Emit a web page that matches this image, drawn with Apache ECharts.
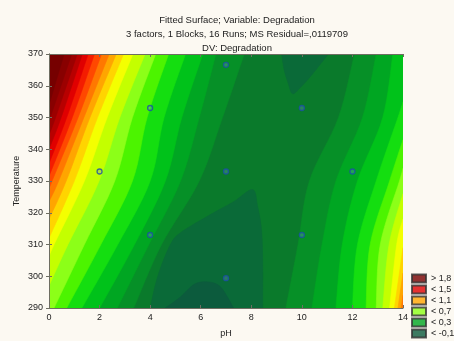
<!DOCTYPE html>
<html>
<head>
<meta charset="utf-8">
<script src="https://cdn.jsdelivr.net/npm/echarts@6/dist/echarts.min.js"></script>
<style>
html, body { margin: 0; background: #fcf9f2; }
#chart { width: 454px; height: 341px; }
</style>
</head>
<body>
<div id="chart"></div>
<script>
// axis ranges
var phRange = [0, 14];
var tempRange = [290, 370];

var tempRows = [290, 310, 330, 350, 370];

// contour lines on the acid side (value rises towards pH 0)
var leftLevels = [0.1, 0.2, 0.3, 0.4, 0.5, 0.6, 0.7, 0.8, 0.9, 1.0, 1.1, 1.2, 1.3, 1.4, 1.5, 1.6, 1.7, 1.8];
var leftPH = [
    [3.35, 4.45, 5.94, 6.86, 7.72],
    [2.7, 3.95, 5.2, 5.94, 6.6],
    [2.0, 3.38, 4.6, 5.25, 6.08],
    [1.3, 2.72, 4.0, 4.55, 5.4],
    [0.7, 2.05, 3.3, 3.88, 4.73],
    [0.2, 1.4, 2.6, 3.3, 4.22],
    [null, 0.75, 1.98, 2.8, 3.8],
    [null, 0.2, 1.4, 2.3, 3.32],
    [null, null, 1.0, 1.92, 2.95],
    [null, null, 0.68, 1.62, 2.66],
    [null, null, 0.38, 1.38, 2.38],
    [null, null, 0.12, 1.15, 2.08],
    [null, null, null, 0.92, 1.8],
    [null, null, null, 0.7, 1.55],
    [null, null, null, 0.48, 1.32],
    [null, null, null, 0.26, 1.12],
    [null, null, null, 0.05, 0.9],
    [null, null, null, null, 0.6]
];
// temperature where a line runs into the pH 0 edge (null: it starts on the bottom edge)
var leftEdgeT = [null, null, null, null, null, null, 297, 306, 312, 318, 323.5, 327.5, 331.5, 335.5, 340, 344.5, 349, 354];

// contour lines on the alkaline side (value rises towards pH 14)
var rightLevels = [0.1, 0.2, 0.3, 0.4, 0.5, 0.6, 0.7, 0.8, 0.9, 1.0, 1.1];
var rightPH = [
    [9.37, 9.85, 10.3, 11.45, 12.08],
    [10.4, 10.8, 11.35, 12.4, 12.94],
    [11.35, 11.6, 12.2, 13.2, 13.6],
    [12.0, 12.2, 12.94, 13.8, null],
    [12.54, 12.7, 13.47, null, null],
    [12.94, 13.1, 13.86, null, null],
    [13.2, 13.45, null, null, null],
    [13.47, 13.75, null, null, null],
    [13.66, null, null, null, null],
    [13.8, null, null, null, null],
    [13.93, null, null, null, null]
];
// temperature where a line runs into the pH 14 edge (null: it reaches the top edge)
var rightEdgeT = [null, null, null, 355, 343, 334, 326, 318, 309, 301, 294];

// closed low regions: level and outline
var lowLevels = [0.0, 0.0, -0.1];
var lowOutlines = [
    [[9.2, 370], [9.3, 365], [9.45, 361], [9.63, 357.5], [9.95, 359.5], [10.4, 363.5], [10.8, 367.5], [11.05, 370]],
    [[4.0, 290], [4.3, 300], [4.8, 310], [5.25, 314], [6.4, 319.5], [7.3, 323.5], [8.05, 327.3], [8.25, 322], [8.4, 315], [8.45, 305], [8.45, 290]],
    [[4.6, 290], [5.2, 293.5], [5.75, 297.5], [6.3, 298.2], [6.8, 296.5], [7.3, 290]]
];

// design points
var designPH = [2, 4, 4, 7, 7, 7, 10, 10, 12];
var designTemp = [333, 353, 313, 366.6, 333, 299.4, 353, 313, 333];

// legend entries
var legendNames = ['> 1,8', '< 1,5', '< 1,1', '< 0,7', '< 0,3', '< -0,1'];
var legendBands = [20, 16, 12, 8, 4, 0];

// one colour per band: band 0 < -0.1, band k in [0.1k-0.2, 0.1k-0.1), band 20 > 1.8
var palette = ['#0c5b3d', '#0a6a38', '#0a7a2b', '#069027', '#00a622', '#00c21a', '#14de10',
    '#4cf400', '#8cff18', '#c4ff00', '#f4ff00', '#ffd400', '#ffa500', '#ff7800', '#ff4800',
    '#f41c00', '#e00000', '#b80000', '#9c0000', '#880000', '#760000'];

function bandAbove(level) { return Math.round((level + 0.2) * 10); }

// build the filled regions, painted in order: curve part + straight closing part along the frame
var shapes = [];
shapes.push({ band: 2, curve: [], tail: [[phRange[0], tempRange[0]], [phRange[1], tempRange[0]], [phRange[1], tempRange[1]], [phRange[0], tempRange[1]]] });
leftLevels.forEach(function (lv, i) {
    var curve = [];
    if (leftEdgeT[i] != null) curve.push([phRange[0], leftEdgeT[i]]);
    tempRows.forEach(function (t, j) {
        if (leftPH[i][j] != null) curve.push([leftPH[i][j], t]);
    });
    shapes.push({ band: bandAbove(lv), curve: curve, tail: [[phRange[0], tempRange[1]], [phRange[0], tempRange[0]]] });
});
rightLevels.forEach(function (lv, i) {
    var curve = [];
    tempRows.forEach(function (t, j) {
        if (rightPH[i][j] != null) curve.push([rightPH[i][j], t]);
    });
    var tail = [];
    if (rightEdgeT[i] != null) curve.push([phRange[1], rightEdgeT[i]]);
    else tail.push([phRange[1], tempRange[1]]);
    tail.push([phRange[1], tempRange[0]]);
    shapes.push({ band: bandAbove(lv), curve: curve, tail: tail });
});
lowOutlines.forEach(function (outline, i) {
    shapes.push({ band: bandAbove(lowLevels[i]) - 1, curve: outline, tail: [] });
});

// catmull-rom through the pixel points so the band edges are drawn as smooth curves
function smoothLine(px) {
    if (px.length < 3) return px.slice();
    var out = [px[0]];
    for (var i = 0; i < px.length - 1; i++) {
        var p0 = px[i - 1] || px[i], p1 = px[i], p2 = px[i + 1], p3 = px[i + 2] || px[i + 1];
        for (var s = 1; s <= 8; s++) {
            var t = s / 8, t2 = t * t, t3 = t2 * t;
            var pt = [];
            for (var d = 0; d < 2; d++) {
                pt.push(0.5 * (2 * p1[d] + (p2[d] - p0[d]) * t +
                    (2 * p0[d] - 5 * p1[d] + 4 * p2[d] - p3[d]) * t2 +
                    (3 * p1[d] - p0[d] - 3 * p2[d] + p3[d]) * t3));
            }
            out.push(pt);
        }
    }
    return out;
}

var font = 'Liberation Sans, Arial, sans-serif';
var frame = '#6e6e62';

var myChart = echarts.init(document.getElementById('chart'));

var series = [
    {
        type: 'custom',
        coordinateSystem: 'cartesian2d',
        clip: true,
        silent: true,
        z: 1,
        data: shapes.map(function (s, i) {
            var p = s.curve.length ? s.curve[0] : s.tail[0];
            return [p[0], p[1], i];
        }),
        renderItem: function (params, api) {
            var s = shapes[params.dataIndex];
            var pts = smoothLine(s.curve.map(function (p) { return api.coord(p); }))
                .concat(s.tail.map(function (p) { return api.coord(p); }));
            return {
                type: 'polygon',
                shape: { points: pts },
                style: { fill: palette[s.band], stroke: palette[s.band], lineWidth: 0.6 }
            };
        }
    },
    {
        type: 'scatter',
        z: 5,
        symbol: 'circle',
        symbolSize: 5,
        itemStyle: { color: 'rgba(120,160,220,0.35)', borderColor: '#1b4fa6', borderWidth: 1.3 },
        data: designPH.map(function (p, i) { return [p, designTemp[i]]; })
    }
];
legendNames.forEach(function (name, i) {
    series.push({
        name: name,
        type: 'scatter',
        data: [],
        itemStyle: { color: palette[legendBands[i]], borderColor: '#333', borderWidth: 0.8 }
    });
});

var option = {
    animation: false,
    backgroundColor: '#fcf9f2',
    title: {
        text: 'Fitted Surface; Variable: Degradation\n3 factors, 1 Blocks, 16 Runs; MS Residual=,0119709\nDV: Degradation',
        left: 232,
        textAlign: 'center',
        top: 8,
        textStyle: { fontFamily: font, fontSize: 9.5, fontWeight: 'normal', color: '#222', lineHeight: 14 }
    },
    legend: {
        orient: 'vertical',
        left: 411,
        top: 273,
        padding: 0,
        itemGap: 0,
        itemWidth: 14,
        itemHeight: 8,
        icon: 'rect',
        selectedMode: false,
        data: legendNames,
        textStyle: { fontFamily: font, fontSize: 9, color: '#222', lineHeight: 11 }
    },
    grid: { left: 49, right: 51, top: 54, bottom: 33, containLabel: false, outerBoundsMode: 'none' },
    xAxis: [
        {
            type: 'value', min: phRange[0], max: phRange[1], interval: 2, position: 'bottom', z: 10,
            name: 'pH', nameLocation: 'middle', nameGap: 21, nameMoveOverlap: false,
            nameTextStyle: { fontFamily: font, fontSize: 9, color: '#222' },
            axisLine: { show: true, lineStyle: { color: frame, width: 1 } },
            axisTick: { show: true, inside: true, length: 3, lineStyle: { color: frame } },
            axisLabel: { fontFamily: font, fontSize: 9, color: '#222', margin: 5 },
            splitLine: { show: false }
        },
        {
            type: 'value', min: phRange[0], max: phRange[1], interval: 2, position: 'top', z: 10,
            axisLine: { show: true, lineStyle: { color: frame, width: 1 } },
            axisTick: { show: true, inside: true, length: 3, lineStyle: { color: frame } },
            axisLabel: { show: false },
            splitLine: { show: false }
        }
    ],
    yAxis: [
        {
            type: 'value', min: tempRange[0], max: tempRange[1], interval: 10, position: 'left', z: 10,
            name: 'Temperature', nameLocation: 'middle', nameGap: 28, nameMoveOverlap: false,
            nameTextStyle: { fontFamily: font, fontSize: 9, color: '#222' },
            axisLine: { show: true, lineStyle: { color: frame, width: 1 } },
            axisTick: { show: true, inside: true, length: 3, lineStyle: { color: frame } },
            axisLabel: { fontFamily: font, fontSize: 9, color: '#222', margin: 6 },
            splitLine: { show: false }
        },
        {
            type: 'value', min: tempRange[0], max: tempRange[1], interval: 10, position: 'right', z: 10,
            axisLine: { show: true, lineStyle: { color: frame, width: 1 } },
            axisTick: { show: true, inside: true, length: 3, lineStyle: { color: frame } },
            axisLabel: { show: false },
            splitLine: { show: false }
        }
    ],
    series: series
};

myChart.setOption(option);
</script>
</body>
</html>
